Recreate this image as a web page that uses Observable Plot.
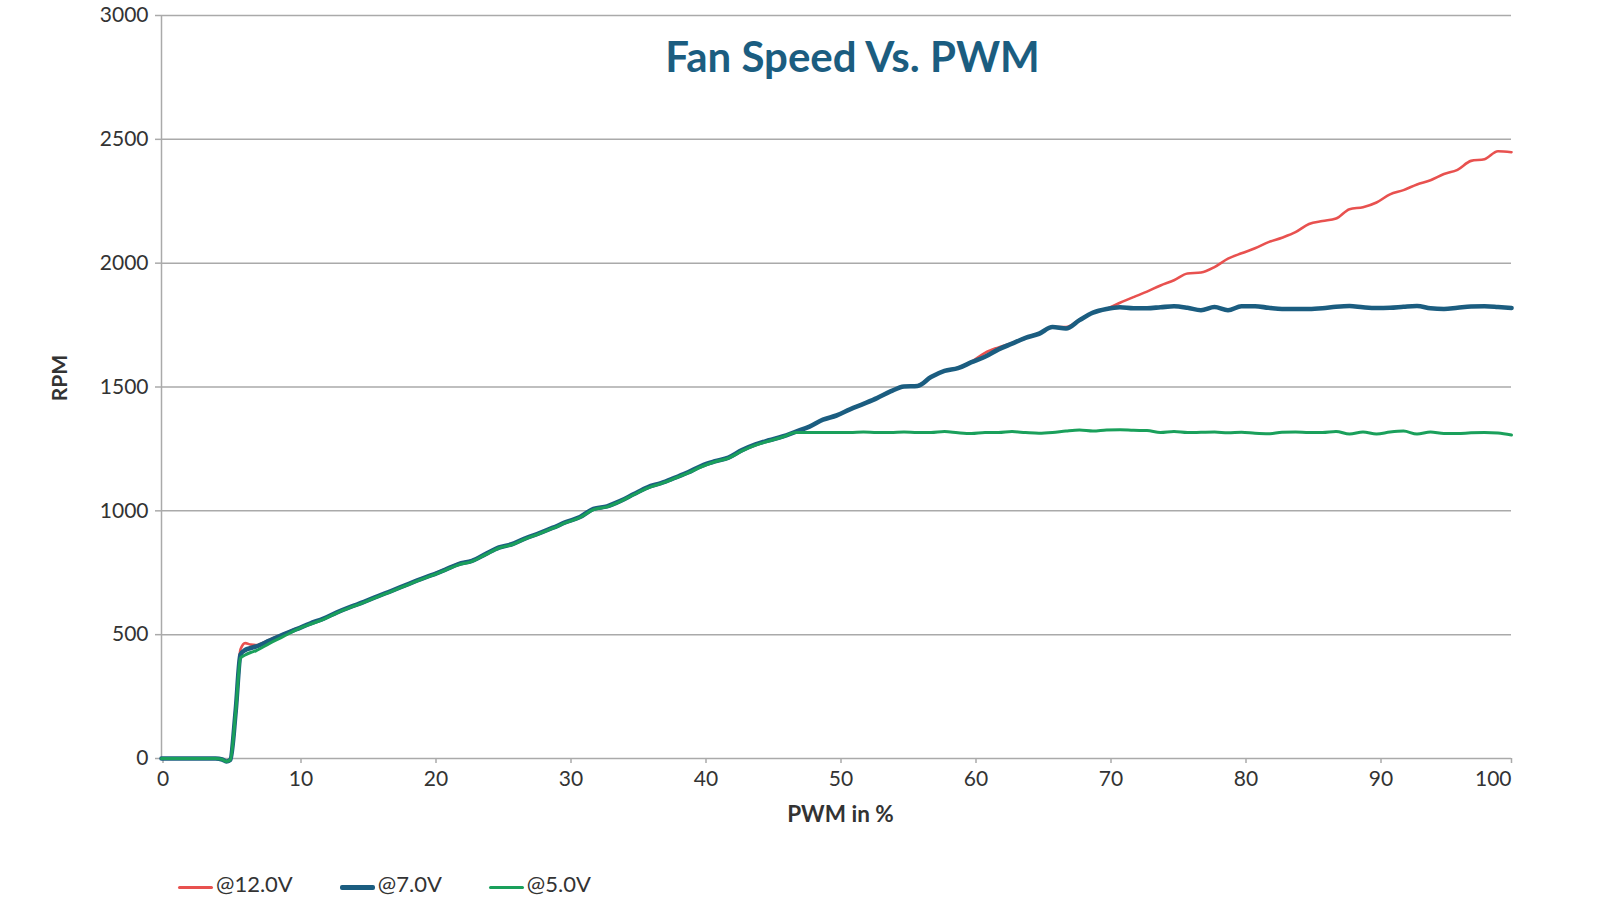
<!DOCTYPE html>
<html>
<head>
<meta charset="utf-8">
<script src="https://cdn.jsdelivr.net/npm/d3@7"></script>
<script src="https://cdn.jsdelivr.net/npm/@observablehq/plot@0.6"></script>
<style>
  html, body { margin: 0; padding: 0; background: #fff; }
  #wrap { position: relative; width: 1600px; height: 900px; overflow: hidden; font-family: Lato, "Noto Sans", sans-serif; }
  #legend { position: absolute; left: 178px; top: 872px; display: flex; gap: 47px; font-size: 22px; color: #333; line-height: 24px; }
  .item { display: flex; align-items: center; }
  .sw { display: inline-block; width: 35px; margin-top: 7px; margin-right: 3px; border-radius: 2px; }
</style>
</head>
<body>
<div id="wrap"></div>
<script>
const pwm = [0,1,2,3,4,4.5,4.8,5.1,5.5,5.85,6.2,6.6,7,8,9,10,11,12,13,14,15,16,17,18,19,20,21,22,23,24,25,26,27,28,29,30,31,32,33,34,35,36,37,38,39,40,41,42,43,44,45,46,47,48,49,50,51,52,53,54,55,56,57,58,59,60,61,62,63,64,65,66,67,68,69,70,71,72,73,74,75,76,77,78,79,80,81,82,83,84,85,86,87,88,89,90,91,92,93,94,95,96,97,98,99,100];

const rpm12 = [0,0,0,0,0,-4,-12,-5,200,440,466,460,458,480,502,525,545,565,590,612,632,655,676,698,722,742,764,787,800,826,852,866,890,910,932,955,975,1008,1018,1040,1068,1095,1112,1133,1155,1182,1200,1215,1245,1268,1285,1300,1320,1340,1368,1385,1410,1432,1455,1482,1502,1506,1542,1566,1578,1602,1638,1660,1678,1700,1716,1742,1742,1772,1800,1815,1840,1863,1885,1910,1931,1958,1962,1984,2018,2040,2060,2085,2103,2125,2158,2170,2180,2218,2226,2245,2278,2295,2318,2335,2360,2377,2413,2420,2452,2448];

const rpm7 = [0,0,0,0,0,-4,-12,-5,195,420,438,446,452,476,500,522,545,565,590,612,632,655,676,698,720,740,762,785,798,825,852,866,890,910,932,955,975,1008,1018,1040,1068,1095,1112,1133,1155,1182,1200,1215,1245,1268,1285,1300,1320,1340,1368,1385,1410,1432,1455,1482,1502,1504,1540,1565,1576,1600,1622,1652,1675,1698,1715,1742,1736,1770,1800,1815,1822,1818,1818,1822,1826,1820,1810,1823,1810,1826,1826,1820,1815,1815,1815,1818,1824,1827,1822,1819,1820,1824,1827,1818,1815,1820,1825,1826,1823,1819];

const rpm5 = [0,0,0,0,0,-4,-12,-5,190,405,418,428,435,465,492,520,542,562,588,610,630,653,674,696,718,738,760,782,796,823,850,864,888,908,930,953,973,1005,1016,1038,1066,1092,1110,1131,1153,1178,1198,1213,1242,1265,1282,1298,1316,1316,1316,1316,1316,1318,1316,1316,1318,1316,1316,1320,1315,1312,1316,1316,1320,1316,1313,1316,1322,1326,1322,1326,1327,1325,1324,1316,1320,1316,1317,1318,1315,1317,1313,1311,1317,1318,1316,1316,1320,1310,1318,1310,1318,1322,1310,1318,1312,1312,1315,1316,1314,1306];

const seriesNames = ["@12.0V", "@7.0V", "@5.0V"];
const seriesColors = ["#e8514f", "#1b5d80", "#1aa05b"];
const seriesWidths = [2.6, 4.6, 3];
const seriesValues = [rpm12, rpm7, rpm5];

const xTicks = [0,10,20,30,40,50,60,70,80,90,100];
const yTicks = [0,500,1000,1500,2000,2500,3000];

const titleText = "Fan Speed Vs. PWM";
const xLabel = "PWM in %";
const yLabel = "RPM";

const lineMarks = seriesValues.map((vals, i) =>
  Plot.line(pwm.map((p, j) => ({pwm: p, rpm: vals[j]})), {
    x: "pwm", y: "rpm", stroke: seriesColors[i], strokeWidth: seriesWidths[i],
    curve: "monotone-x", strokeLinejoin: "round", strokeLinecap: "round"
  })
);

const axisStyle = { tickSize: 5, tickPadding: 8, stroke: "#aaaaaa", strokeWidth: 1.5, fill: "#333", fontSize: 21, label: null, tickFormat: d => String(d) };

const chart = Plot.plot({
  width: 1600,
  height: 840,
  marginLeft: 161,
  marginRight: 89,
  marginTop: 15,
  marginBottom: 82,
  style: { fontFamily: "Lato, 'Noto Sans', sans-serif", fontSize: "21px", color: "#333", background: "#fff" },
  x: { domain: [0, 100] },
  y: { domain: [0, 3000] },
  marks: [
    Plot.ruleY(yTicks, { stroke: "#aaaaaa", strokeWidth: 1.5 }),
    Plot.ruleX([0], { stroke: "#aaaaaa", strokeWidth: 1.5 }),
    Plot.axisY({ ...axisStyle, ticks: yTicks, tickSize: 6, tickPadding: 7 }),
    Plot.axisX({ ...axisStyle, ticks: xTicks.slice(0, 1), dx: 1.5 }),
    Plot.axisX({ ...axisStyle, ticks: xTicks.slice(1, -1), dx: 4.5 }),
    Plot.axisX({ ...axisStyle, ticks: xTicks.slice(-1), textAnchor: "end" }),
    ...lineMarks,
    Plot.text([titleText], { text: d => d, frameAnchor: "top", dx: 16, dy: 43, lineAnchor: "middle", fontSize: 42, fontWeight: "bold", fill: "#1b5d80", letterSpacing: "-0.4px" }),
    Plot.text([xLabel], { text: d => d, frameAnchor: "bottom", dx: 4, dy: 56, lineAnchor: "middle", fontSize: 22.5, fontWeight: "bold", fill: "#333" }),
    Plot.text([yLabel], { text: d => d, frameAnchor: "left", dx: -101, dy: -9, rotate: -90, lineAnchor: "middle", textAnchor: "middle", fontSize: 21, fontWeight: "bold", fill: "#333" })
  ]
});

const wrap = document.getElementById("wrap");
wrap.appendChild(chart);

const legend = document.createElement("div");
legend.id = "legend";
seriesNames.forEach((name, i) => {
  const item = document.createElement("div");
  item.className = "item";
  const sw = document.createElement("span");
  sw.className = "sw";
  sw.style.background = seriesColors[i];
  sw.style.height = (i === 1 ? 5 : 3) + "px";
  const t = document.createElement("span");
  t.textContent = name;
  item.appendChild(sw);
  item.appendChild(t);
  legend.appendChild(item);
});
wrap.appendChild(legend);
</script>
</body>
</html>
